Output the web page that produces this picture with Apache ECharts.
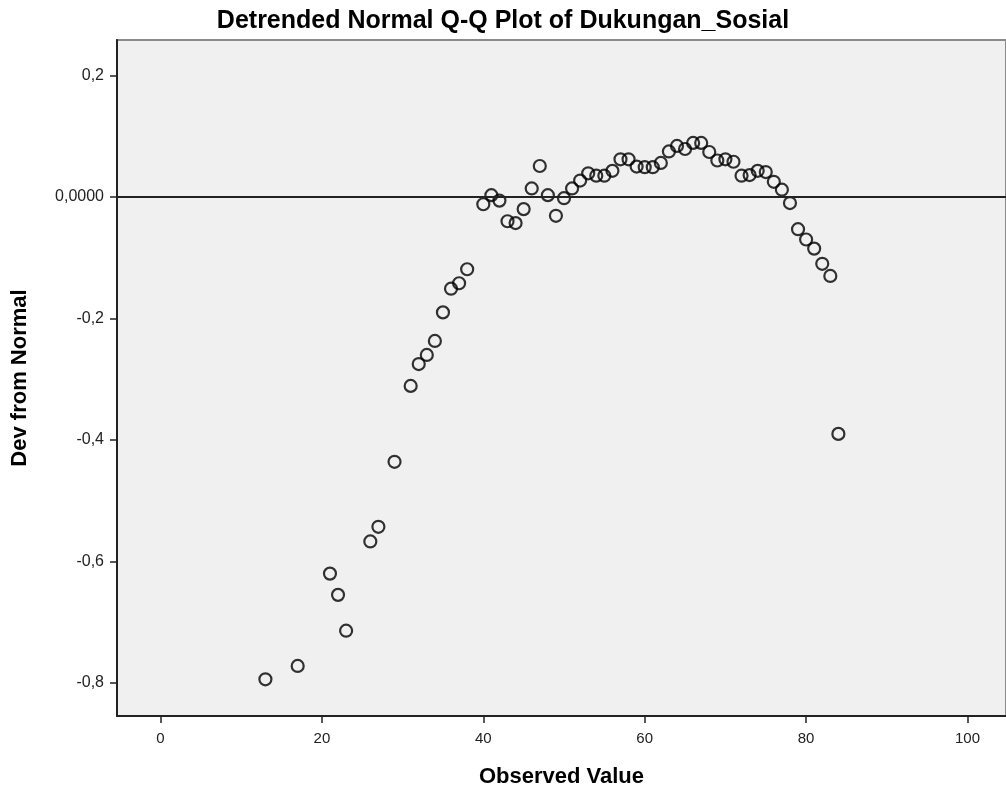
<!DOCTYPE html>
<html>
<head>
<meta charset="utf-8">
<script src="https://cdn.jsdelivr.net/npm/echarts@6/dist/echarts.min.js"></script>
<style>
  html, body { margin: 0; padding: 0; background: #ffffff; }
  #chart { width: 1006px; height: 796px; }
</style>
</head>
<body>
<div id="chart"></div>
<script>
const titleText = 'Detrended Normal Q-Q Plot of Dukungan_Sosial';
const xAxisTitle = 'Observed Value';
const yAxisTitle = 'Dev from Normal';
const xTicks = [0, 20, 40, 60, 80, 100];
const yTicks = [-0.8, -0.6, -0.4, -0.2, 0, 0.2];

const observed = [13, 17, 21, 22, 23, 26, 27, 29, 31, 32, 33, 34, 35, 36, 37, 38,
  40, 41, 42, 43, 44, 45, 46, 47, 48, 49, 50, 51, 52, 53, 54, 55, 56, 57, 58, 59,
  60, 61, 62, 63, 64, 65, 66, 67, 68, 69, 70, 71, 72, 73, 74, 75, 76, 77, 78, 79,
  80, 81, 82, 83, 84];
const devFromNormal = [-0.794, -0.772, -0.620, -0.655, -0.714, -0.567, -0.543, -0.436,
  -0.311, -0.275, -0.260, -0.237, -0.190, -0.151, -0.142, -0.119,
  -0.012, 0.003, -0.006, -0.040, -0.043, -0.020, 0.014, 0.051, 0.003, -0.031, -0.002,
  0.014, 0.027, 0.039, 0.035, 0.035, 0.043, 0.062, 0.062, 0.050,
  0.049, 0.049, 0.056, 0.075, 0.084, 0.079, 0.089, 0.089, 0.074, 0.060, 0.062, 0.058,
  0.035, 0.036, 0.043, 0.041, 0.025, 0.012, -0.010, -0.053,
  -0.070, -0.085, -0.110, -0.130, -0.390];

const points = observed.map((x, i) => [x, devFromNormal[i]]);

const chart = echarts.init(document.getElementById('chart'), null, { renderer: 'canvas' });
chart.setOption({
  backgroundColor: '#ffffff',
  animation: false,
  title: {
    text: titleText,
    left: 'center',
    top: 4,
    textStyle: {
      fontFamily: 'Liberation Sans, Arial, sans-serif',
      fontSize: 25,
      fontWeight: 'bold',
      color: '#000'
    }
  },
  grid: {
    left: 117,
    right: 0,
    top: 40,
    bottom: 80,
    outerBoundsMode: 'none',
    containLabel: false,
    show: true,
    backgroundColor: '#f0f0f0',
    borderColor: '#8a8a8a',
    borderWidth: 2
  },
  xAxis: {
    type: 'value',
    min: -5.39,
    max: 104.77,
    name: xAxisTitle,
    nameLocation: 'middle',
    nameGap: 50,
    nameTextStyle: {
      fontFamily: 'Liberation Sans, Arial, sans-serif',
      fontWeight: 'bold',
      fontSize: 22,
      color: '#000'
    },
    axisLine: { show: true, onZero: false, lineStyle: { color: '#222', width: 2 } },
    axisTick: { show: true, customValues: xTicks, length: 7, lineStyle: { color: '#222', width: 1.5 } },
    axisLabel: {
      customValues: xTicks,
      margin: 15,
      fontFamily: 'Liberation Sans, Arial, sans-serif',
      fontSize: 15,
      color: '#222'
    },
    splitLine: { show: false }
  },
  yAxis: {
    type: 'value',
    min: -0.8544,
    max: 0.2584,
    name: yAxisTitle,
    nameLocation: 'middle',
    nameGap: 86,
    nameRotate: 90,
    nameTextStyle: {
      fontFamily: 'Liberation Sans, Arial, sans-serif',
      fontWeight: 'bold',
      fontSize: 22,
      color: '#000'
    },
    axisLine: { show: true, onZero: false, lineStyle: { color: '#222', width: 2 } },
    axisTick: { show: true, customValues: yTicks, length: 7, lineStyle: { color: '#222', width: 1.5 } },
    axisLabel: {
      customValues: yTicks,
      margin: 13,
      fontFamily: 'Liberation Sans, Arial, sans-serif',
      fontSize: 16,
      color: '#222',
      formatter: function (v) {
        if (Math.abs(v) < 1e-9) return '0,0000';
        return v.toFixed(1).replace('.', ',');
      }
    },
    splitLine: { show: false }
  },
  series: [{
    type: 'scatter',
    data: points,
    symbol: 'circle',
    symbolSize: 12,
    itemStyle: {
      color: 'rgba(0,0,0,0)',
      borderColor: '#000',
      borderWidth: 2.2
    },
    markLine: {
      silent: true,
      symbol: ['none', 'none'],
      label: { show: false },
      lineStyle: { color: '#222', width: 2, type: 'solid' },
      data: [{ yAxis: 0 }]
    },
    z: 3
  }]
});
</script>
</body>
</html>
